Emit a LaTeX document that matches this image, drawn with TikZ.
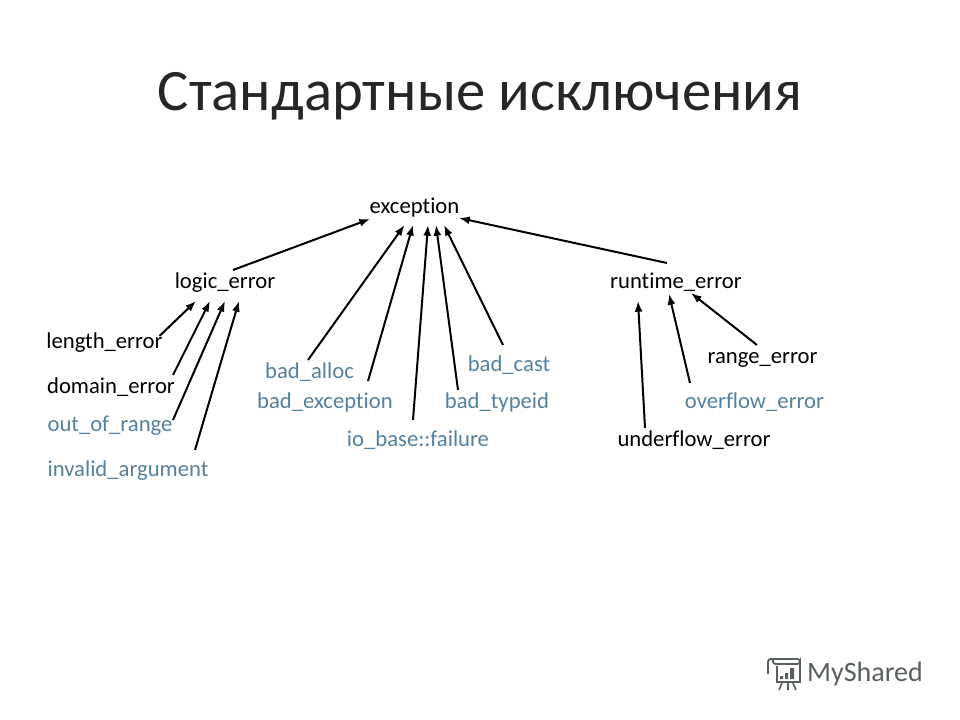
\documentclass[tikz,border=0pt]{standalone}
\usepackage{fontspec}
\setmainfont[Ligatures=NoCommon]{Carlito}
\usepackage{tikz}
\usetikzlibrary{arrows.meta}
\definecolor{lblue}{HTML}{55809E}
\definecolor{mygray}{HTML}{59605C}
\tikzset{
  lbl/.style={inner sep=0pt,text height=1.5ex,text depth=0.45ex,font=\fontsize{17}{19}\selectfont},
  blbl/.style={lbl,text=lblue},
  arr/.style={-{Latex[length=8pt,width=6pt]},line width=1.5pt,black}
}

\begin{document}
\begin{tikzpicture}[x=0.75pt,y=-0.75pt]
\useasboundingbox (0,0) rectangle (960,720);
\node [inner sep=0pt,text=black!85,font=\fontsize{44}{50}\selectfont] (title) at (480,96) {Стандартные исключения};
\node [lbl] (exception) at (414.5,210) {exception};
\node [lbl] (logic) at (225,285) {logic\_error};
\node [lbl] (runtime) at (676,285) {runtime\_error};
\node [lbl] (length) at (104.5,345) {length\_error};
\node [lbl] (domain) at (111,390) {domain\_error};
\node [blbl] (outrange) at (110,428) {out\_of\_range};
\node [blbl] (invalid) at (128,473) {invalid\_argument};
\node [blbl] (alloc) at (309.5,375) {bad\_alloc};
\node [blbl] (badexc) at (325,405) {bad\_exception};
\node [blbl] (iobase) at (418,443) {io\_base::failure};
\node [blbl] (typeid) at (497,405) {bad\_typeid};
\node [blbl] (cast) at (509,368) {bad\_cast};
\node [lbl] (underflow) at (694,443) {underflow\_error};
\node [blbl] (overflow) at (754.5,405) {overflow\_error};
\node [lbl] (range) at (762.5,360) {range\_error};
% upper level
\draw [arr] ([shift={(8,-15)}]logic.center) -- ([shift={(-44.5,9)}]exception.center);
\draw [arr] ([shift={(-9,-22)}]runtime.center) -- ([shift={(44.5,8)}]exception.center);
% logic_error
\draw [arr] ([shift={(55,-9)}]length.center) -- ([shift={(-29,16)}]logic.center);
\draw [arr] ([shift={(62,-15)}]domain.center) -- ([shift={(-15,16)}]logic.center);
\draw [arr] ([shift={(63,-8)}]outrange.center) -- ([shift={(0,16)}]logic.center);
\draw [arr] ([shift={(67,-23)}]invalid.center) -- ([shift={(14,16)}]logic.center);
% exception, middle
\draw [arr] ([shift={(-1.5,-15)}]alloc.center) -- ([shift={(-10,15)}]exception.center);
\draw [arr] ([shift={(43,-24)}]badexc.center) -- ([shift={(-1.5,15)}]exception.center);
\draw [arr] ([shift={(-5,-23)}]iobase.center) -- ([shift={(13.5,15)}]exception.center);
\draw [arr] ([shift={(-39,-15)}]typeid.center) -- ([shift={(21.5,15)}]exception.center);
\draw [arr] ([shift={(-6,-23)}]cast.center) -- ([shift={(29.5,15)}]exception.center);
% runtime_error
\draw [arr] ([shift={(-49,-15)}]underflow.center) -- ([shift={(-38,16)}]runtime.center);
\draw [arr] ([shift={(-64.5,-22)}]overflow.center) -- ([shift={(-7,9)}]runtime.center);
\draw [arr] ([shift={(-5.5,-15)}]range.center) -- ([shift={(15,8)}]runtime.center);
% logo
\node [inner sep=0pt,text=mygray,font=\fontsize{21}{23}\selectfont] (myshared) at (865,674) {MyShared};
\draw [mygray,line width=1.4pt] (777,666) -- (777,682) -- (800,682) -- (800,664);
\draw [mygray,line width=1.4pt,rounded corners=2pt] (768,674) -- (768,659) -- (800,659) -- (800,664) -- (773,664) -- (773,660);
\fill [mygray] (780,676) rectangle (783,679) (785,673) rectangle (788,679) (790,668) rectangle (794,679);
\draw [mygray,line width=1.2pt] (782,683) -- (779,690) (788,683) -- (788,690) (793,683) -- (796,690);
\end{tikzpicture}
\end{document}
